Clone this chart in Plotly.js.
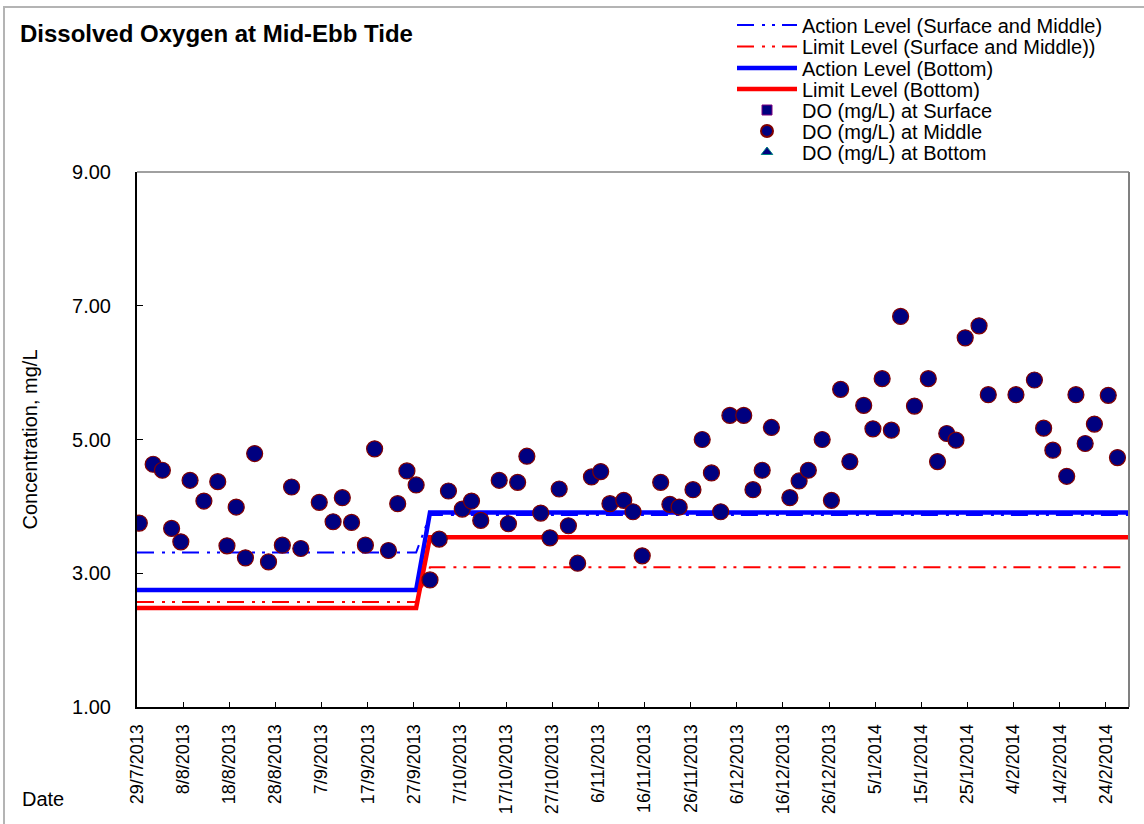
<!DOCTYPE html>
<html>
<head>
<meta charset="utf-8">
<script src="https://cdn.plot.ly/plotly-3.0.1.min.js"></script>
<style>
  html, body { margin: 0; padding: 0; background: #ffffff; overflow: hidden; }
  #wrap { position: relative; width: 1144px; height: 824px; }
  #chart { width: 1144px; height: 824px; }
  #frame { position: absolute; left: 3px; top: 6px; width: 1160px; height: 840px;
    border-left: 2px solid #b4b4b4; border-top: 2px solid #b4b4b4; pointer-events: none; }
</style>
</head>
<body>
<div id="wrap"><div id="chart"></div><div id="frame"></div></div>
<script>
// ---------- data ----------
const chartTitle = "Dissolved Oxygen at Mid-Ebb Tide";
const yTitle = "Concentration, mg/L";
const xTitle = "Date";

const tickLabels = ["29/7/2013","8/8/2013","18/8/2013","28/8/2013","7/9/2013","17/9/2013","27/9/2013",
  "7/10/2013","17/10/2013","27/10/2013","6/11/2013","16/11/2013","26/11/2013","6/12/2013",
  "16/12/2013","26/12/2013","5/1/2014","15/1/2014","25/1/2014","4/2/2014","14/2/2014","24/2/2014"];
const yTicks = [1, 3, 5, 7, 9];

const sampleDates = [
  "2013-07-29","2013-08-01","2013-08-03","2013-08-05","2013-08-07","2013-08-09","2013-08-12",
  "2013-08-15","2013-08-17","2013-08-19","2013-08-21","2013-08-23","2013-08-26","2013-08-29",
  "2013-08-31","2013-09-02","2013-09-06","2013-09-09","2013-09-11","2013-09-13","2013-09-16",
  "2013-09-18","2013-09-21","2013-09-23","2013-09-25","2013-09-27","2013-09-30","2013-10-02",
  "2013-10-04","2013-10-07","2013-10-09","2013-10-11","2013-10-15","2013-10-17","2013-10-19",
  "2013-10-21","2013-10-24","2013-10-26","2013-10-28","2013-10-30","2013-11-01","2013-11-04",
  "2013-11-06","2013-11-08","2013-11-11","2013-11-13","2013-11-15","2013-11-19","2013-11-21",
  "2013-11-23","2013-11-26","2013-11-28","2013-11-30","2013-12-02","2013-12-04","2013-12-07",
  "2013-12-09","2013-12-11","2013-12-13","2013-12-17","2013-12-19","2013-12-21","2013-12-24",
  "2013-12-26","2013-12-28","2013-12-30","2014-01-02","2014-01-04","2014-01-06","2014-01-08",
  "2014-01-10","2014-01-13","2014-01-16","2014-01-18","2014-01-20","2014-01-22","2014-01-24",
  "2014-01-27","2014-01-29","2014-02-04","2014-02-08","2014-02-10","2014-02-12","2014-02-15",
  "2014-02-17","2014-02-19","2014-02-21","2014-02-24","2014-02-26"];

const doMiddle = [
  3.75,4.63,4.54,3.67,3.47,4.39,4.08,
  4.37,3.41,3.99,3.23,4.79,3.17,3.42,
  4.29,3.37,4.06,3.77,4.13,3.76,3.42,
  4.86,3.34,4.04,4.53,4.32,2.90,3.51,
  4.23,3.96,4.08,3.79,4.39,3.74,4.36,
  4.75,3.90,3.53,4.26,3.71,3.15,4.44,
  4.52,4.04,4.09,3.92,3.26,4.36,4.03,
  3.99,4.25,5.00,4.50,3.92,5.36,5.36,
  4.25,4.54,5.18,4.13,4.38,4.54,5.00,
  4.09,5.75,4.67,5.51,5.16,5.91,5.14,
  6.84,5.50,5.91,4.67,5.09,4.99,6.52,
  6.70,5.67,5.67,5.89,5.17,4.84,4.45,
  5.67,4.94,5.23,5.66,4.73];
// surface and bottom readings are not visible in the chart (hidden behind the middle markers)
const doSurface = [];
const doBottom = [];

const levelDates = ["2013-07-29","2013-09-27","2013-09-30","2014-02-28"];
const actionSM = [3.31, 3.31, 3.87, 3.87];
const limitSM  = [2.57, 2.57, 3.09, 3.09];
const actionB  = [2.75, 2.75, 3.91, 3.91];
const limitB   = [2.48, 2.48, 3.54, 3.54];

const seriesNames = ["Action Level (Surface and Middle)", "Limit Level (Surface and Middle))",
  "Action Level (Bottom)", "Limit Level (Bottom)",
  "DO (mg/L) at Surface", "DO (mg/L) at Middle", "DO (mg/L) at Bottom"];

// ---------- helpers ----------
function labelToIso(s) {
  const p = s.split("/");
  return p[2] + "-" + String(p[1]).padStart(2, "0") + "-" + String(p[0]).padStart(2, "0");
}
function addDays(iso, n) {
  const d = new Date(iso + "T00:00:00Z");
  d.setUTCDate(d.getUTCDate() + n);
  return d.toISOString().slice(0, 10);
}
// points sit in the middle of their day (date axis, between tick marks)
const mid = d => d + " 12:00";
const orNull = a => a.length ? a : [null];
const tickVals = tickLabels.map(labelToIso);
const xStart = levelDates[0];
const xEnd = addDays(levelDates[levelDates.length - 1], 1);
const levelX = levelDates.map((d, i) => i === 0 ? d : (i === levelDates.length - 1 ? xEnd : mid(d)));

const FONT = "Arial, 'Liberation Sans', sans-serif";
const dashPat = "17px,8px,3px,7px,3px,7px";

function lineTrace(name, y, color, width, dash, leg) {
  return { type: "scatter", mode: "lines", name: name, x: levelX, y: y,
    line: { color: color, width: width, dash: dash }, legend: leg, hoverinfo: "skip" };
}

const traces = [
  lineTrace(seriesNames[0], actionSM, "#0000ff", 2, dashPat, "legend"),
  lineTrace(seriesNames[1], limitSM, "#ff0000", 2, dashPat, "legend2"),
  lineTrace(seriesNames[2], actionB, "#0000ff", 4.5, "solid", "legend3"),
  lineTrace(seriesNames[3], limitB, "#ff0000", 4.5, "solid", "legend4"),
  { type: "scatter", mode: "markers", name: seriesNames[4],
    x: orNull(doSurface.map(mid)), y: orNull(doSurface),
    marker: { symbol: "square", size: 10, color: "#000080", line: { color: "#800080", width: 1 } },
    legend: "legend5" },
  { type: "scatter", mode: "markers", name: seriesNames[5], x: sampleDates.map(mid), y: doMiddle,
    marker: { symbol: "circle", size: 16, color: "#000080", line: { color: "#800000", width: 1.2 } },
    legend: "legend6" },
  { type: "scatter", mode: "markers", name: seriesNames[6],
    x: orNull(doBottom.map(mid)), y: orNull(doBottom),
    marker: { symbol: "triangle-up", size: 10, color: "#000080", line: { color: "#008080", width: 1 } },
    legend: "legend7" }
];

const W = 1144, H = 824;
const legendCentres = [25, 46.5, 68, 89, 110, 131, 152];
function legendAt(pxY, sizing) {
  return { x: 732 / W, y: 1 - pxY / H, xref: "container", yref: "container",
    xanchor: "left", yanchor: "middle", bgcolor: "rgba(0,0,0,0)", borderwidth: 0,
    font: { family: FONT, size: 20, color: "#000000" }, itemwidth: 60,
    itemsizing: sizing || "trace" };
}

const M = { l: 137, r: 15, t: 172, b: 117 };
const pw = W - M.l - M.r, ph = H - M.t - M.b;

const layout = {
  width: W, height: H,
  margin: { l: M.l, r: M.r, t: M.t, b: M.b, pad: 0, autoexpand: false },
  paper_bgcolor: "#ffffff", plot_bgcolor: "#ffffff",
  font: { family: FONT, color: "#000000" },
  title: { text: "<b>" + chartTitle + "</b>", x: 20 / W, xanchor: "left", xref: "container",
    y: 1 - 34 / H, yanchor: "middle", yref: "container", automargin: false,
    font: { family: FONT, size: 24, color: "#000000" } },
  showlegend: true,
  legend: legendAt(legendCentres[0]),
  legend2: legendAt(legendCentres[1]),
  legend3: legendAt(legendCentres[2]),
  legend4: legendAt(legendCentres[3]),
  legend5: legendAt(legendCentres[4]),
  legend6: legendAt(legendCentres[5], "constant"),
  legend7: legendAt(legendCentres[6]),
  xaxis: {
    type: "date", range: [xStart, xEnd], autorange: false,
    tickmode: "array", tickvals: tickVals, ticktext: tickLabels, tickangle: -90,
    ticks: "inside", ticklen: 5, tickwidth: 1, tickcolor: "#000000",
    tickfont: { family: FONT, size: 18, color: "#000000" }, ticklabelstandoff: 8,
    showline: true, linecolor: "#000000", linewidth: 2, showgrid: false, zeroline: false,
    mirror: false, fixedrange: true, automargin: false
  },
  yaxis: {
    range: [1, 9], autorange: false, tickmode: "array", tickvals: yTicks,
    tickformat: ".2f", ticks: "inside", ticklen: 6, tickwidth: 1, tickcolor: "#000000",
    tickfont: { family: FONT, size: 20, color: "#000000" }, ticklabelstandoff: 20,
    showline: true, linecolor: "#000000", linewidth: 2, showgrid: false, zeroline: false,
    title: { text: yTitle, font: { family: FONT, size: 20, color: "#000000" }, standoff: 29 },
    fixedrange: true, automargin: false
  },
  annotations: [
    { text: xTitle, xref: "paper", yref: "paper", x: (20 - M.l) / pw, y: -(799 - (M.t + ph)) / ph,
      xanchor: "left", yanchor: "middle", showarrow: false,
      font: { family: FONT, size: 20, color: "#000000" } }
  ],
  shapes: [
    // plot area top and right border (grey)
    { type: "line", xref: "paper", yref: "paper", x0: 0, x1: 1, y0: 1, y1: 1,
      line: { color: "#808080", width: 1.5 } },
    { type: "line", xref: "paper", yref: "paper", x0: 1, x1: 1, y0: 0, y1: 1,
      line: { color: "#808080", width: 2 } }
  ]
};

Plotly.newPlot("chart", traces, layout, { displayModeBar: false, staticPlot: true });
</script>
</body>
</html>
